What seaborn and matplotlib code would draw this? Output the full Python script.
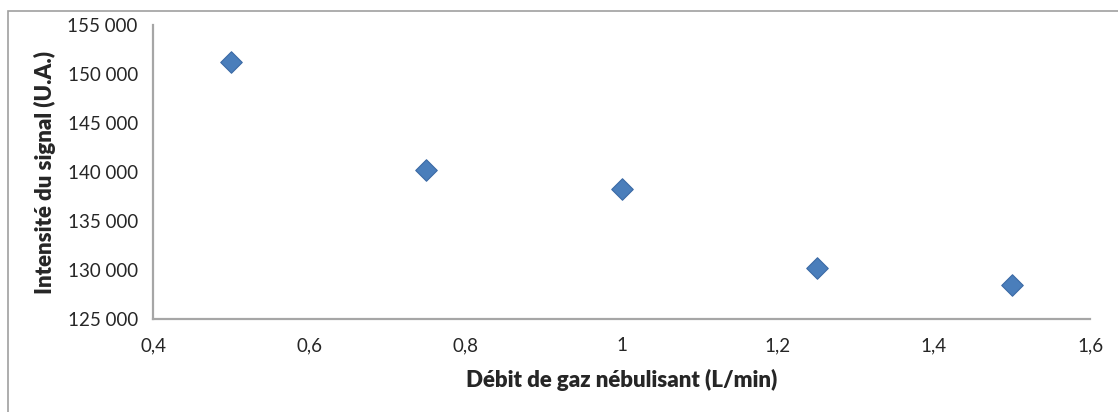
import matplotlib
matplotlib.use("Agg")
import matplotlib.pyplot as plt
import matplotlib.ticker as mticker
from matplotlib.patches import Rectangle
import seaborn as sns
import pandas as pd

# Données
debit = [0.5, 0.75, 1.0, 1.25, 1.5]
intensite = [151200, 140250, 138300, 130200, 128500]

df = pd.DataFrame({"debit": debit, "intensite": intensite})

sns.set_style("white")
plt.rcParams["font.family"] = ["Lato", "DejaVu Sans"]

fig = plt.figure(figsize=(11.18, 4.12), dpi=100)
ax = fig.add_axes([0.1369, 0.2257, 0.9750 - 0.1369, 0.9393 - 0.2257])

sns.scatterplot(data=df, x="debit", y="intensite", marker="D", s=120,
                color="#4a7ebb", edgecolor="#3c6aa5", linewidth=0.8, ax=ax, zorder=3)

ax.set_xlim(0.4, 1.6)
ax.set_ylim(125000, 155000)
ax.xaxis.set_major_locator(mticker.MultipleLocator(0.2))
ax.yaxis.set_major_locator(mticker.MultipleLocator(5000))
ax.xaxis.set_major_formatter(mticker.FuncFormatter(lambda v, p: f"{v:g}".replace(".", ",")))
ax.yaxis.set_major_formatter(mticker.FuncFormatter(lambda v, p: f"{int(round(v)):,}".replace(",", " ")))

for side in ["top", "right"]:
    ax.spines[side].set_visible(False)
for side in ["left", "bottom"]:
    ax.spines[side].set_color("#a6a6a6")
    ax.spines[side].set_linewidth(1.6)

ax.tick_params(axis="both", which="major", direction="out", length=5, width=1.6,
               color="#a6a6a6", labelsize=13.5, labelcolor="#262626")
ax.tick_params(axis="y", pad=6)
ax.tick_params(axis="x", pad=8)

ax.set_xlabel("Débit de gaz nébulisant (L/min)", fontsize=16, fontweight="heavy",
              color="#262626", labelpad=11)
ax.set_ylabel("Intensité du signal (U.A.)", fontsize=16, fontweight="heavy",
              color="#262626", labelpad=8)

# cadre de la zone de graphique
fig.patches.append(Rectangle((7.5 / 1118, -0.1), 1.2, 1 - 10.5 / 412 + 0.1,
                             transform=fig.transFigure, fill=False,
                             edgecolor="#a0a0a0", linewidth=1.2))

fig.savefig("out.png", dpi=100)
